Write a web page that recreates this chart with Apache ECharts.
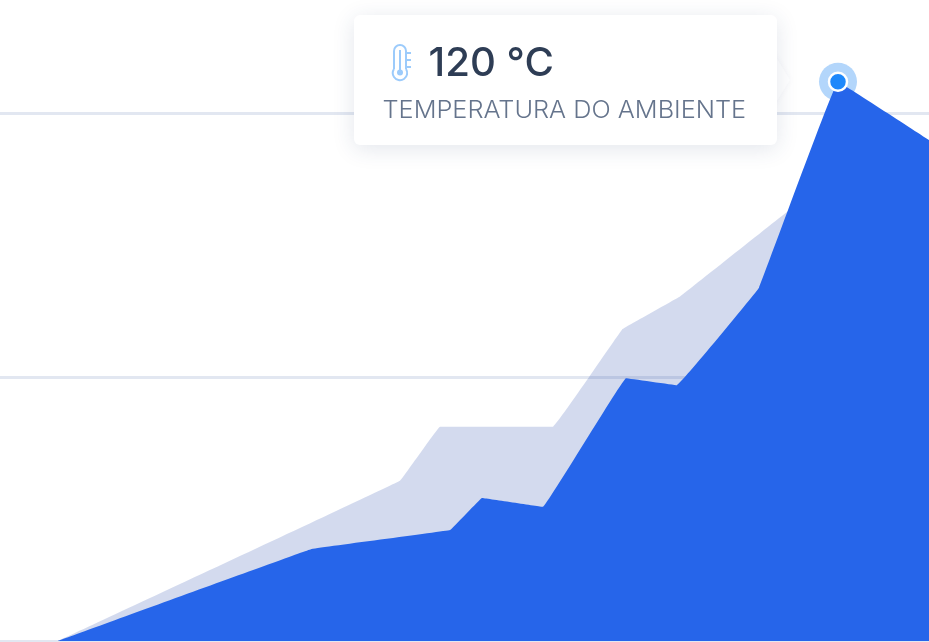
<!DOCTYPE html>
<html>
<head>
<meta charset="utf-8">
<style>html,body{margin:0;padding:0;background:#fff}#c{width:929px;height:642px}</style>
<script src="https://cdn.jsdelivr.net/npm/echarts@6/dist/echarts.min.js"></script>
</head>
<body>
<div id="c"></div>
<script>
const ambientX = [58, 400, 440, 553, 622, 680, 790, 838, 929];
const ambientValues = [0, 34.4, 46, 46, 66.8, 73.9, 92.6, 100, 106];
const measuredX = [58, 311, 450, 482, 543, 626, 677, 759, 838, 929];
const measuredValues = [0, 19.7, 23.8, 30.7, 28.8, 56.4, 54.9, 75.8, 120, 107.5];
const peakX = [838];
const peakValue = [120];
const readingText = '120 °C';
const readingLabel = 'TEMPERATURA DO AMBIENTE';

const zip = (xs, ys) => xs.map((x, i) => [x, ys[i]]);
const chart = echarts.init(document.getElementById('c'), null, {renderer: 'canvas'});
const iconStroke = {stroke: '#9ccbfb', lineWidth: 2, fill: 'none'};
chart.setOption({
  animation: false,
  backgroundColor: '#ffffff',
  grid: {left: 0, right: 0, top: 0, bottom: 1, containLabel: false},
  xAxis: {type: 'value', min: 0, max: 929, show: false},
  yAxis: {
    type: 'value', min: 0, max: 137.55, interval: 56.65,
    axisLine: {show: false}, axisTick: {show: false}, axisLabel: {show: false},
    splitLine: {show: true, showMaxLine: false, lineStyle: {color: '#e2e7f1', width: 3}}
  },
  series: [
    {type: 'scatter', z: 1, silent: true, data: zip(peakX, peakValue), symbolSize: 38,
     itemStyle: {color: '#b3d6fb', opacity: 1}},
    {type: 'line', z: 2, smooth: 0.03, symbol: 'none', data: zip(ambientX, ambientValues),
     lineStyle: {width: 0}, areaStyle: {color: '#2346aa', opacity: 0.2}},
    {type: 'line', z: 3, smooth: 0.03, symbol: 'none', data: zip(measuredX, measuredValues),
     lineStyle: {width: 0}, areaStyle: {color: '#2665ea', opacity: 1}},
    {type: 'scatter', z: 4, silent: true, data: zip(peakX, peakValue), symbolSize: 18,
     itemStyle: {color: '#1e88fb', borderColor: '#ffffff', borderWidth: 2.5, opacity: 1}}
  ],
  graphic: {elements: [
    {type: 'polygon', z: 100, shape: {points: [[770, 47], [790, 80], [770, 112]]}, style: {fill: '#ffffff', shadowBlur: 6, shadowColor: 'rgba(40,60,110,0.04)'}},
    {type: 'rect', z: 101, shape: {x: 354, y: 15, width: 423, height: 130, r: 6},
     style: {fill: '#ffffff', shadowBlur: 22, shadowOffsetY: 4, shadowColor: 'rgba(40,60,110,0.13)'}},
    {type: 'arc', z: 102, shape: {cx: 400, cy: 51, r: 6, startAngle: Math.PI, endAngle: 2 * Math.PI, clockwise: true}, style: iconStroke},
    {type: 'arc', z: 102, shape: {cx: 400, cy: 73, r: 7.2, startAngle: -0.586, endAngle: 3.728, clockwise: true}, style: iconStroke},
    {type: 'line', z: 102, shape: {x1: 394, y1: 51, x2: 394, y2: 69}, style: iconStroke},
    {type: 'line', z: 102, shape: {x1: 406, y1: 51, x2: 406, y2: 69}, style: iconStroke},
    {type: 'line', z: 102, shape: {x1: 400, y1: 50, x2: 400, y2: 70}, style: iconStroke},
    {type: 'circle', z: 102, shape: {cx: 400, cy: 72.5, r: 3}, style: {fill: '#9ccbfb'}},
    {type: 'line', z: 102, shape: {x1: 407, y1: 53, x2: 411, y2: 53}, style: iconStroke},
    {type: 'line', z: 102, shape: {x1: 407, y1: 60, x2: 411, y2: 60}, style: iconStroke},
    {type: 'line', z: 102, shape: {x1: 407, y1: 67, x2: 411, y2: 67}, style: iconStroke},
    {type: 'text', z: 102, x: 428.5, y: 45, scaleX: 1.03, style: {text: readingText, fill: '#2e3d55', font: '500 39px Inter, sans-serif'}},
    {type: 'text', z: 102, x: 382.5, y: 98.5, scaleX: 1.077, style: {text: readingLabel, fill: '#65748c', font: '300 23.5px Inter, sans-serif'}}
  ]}
});
</script>
</body>
</html>
